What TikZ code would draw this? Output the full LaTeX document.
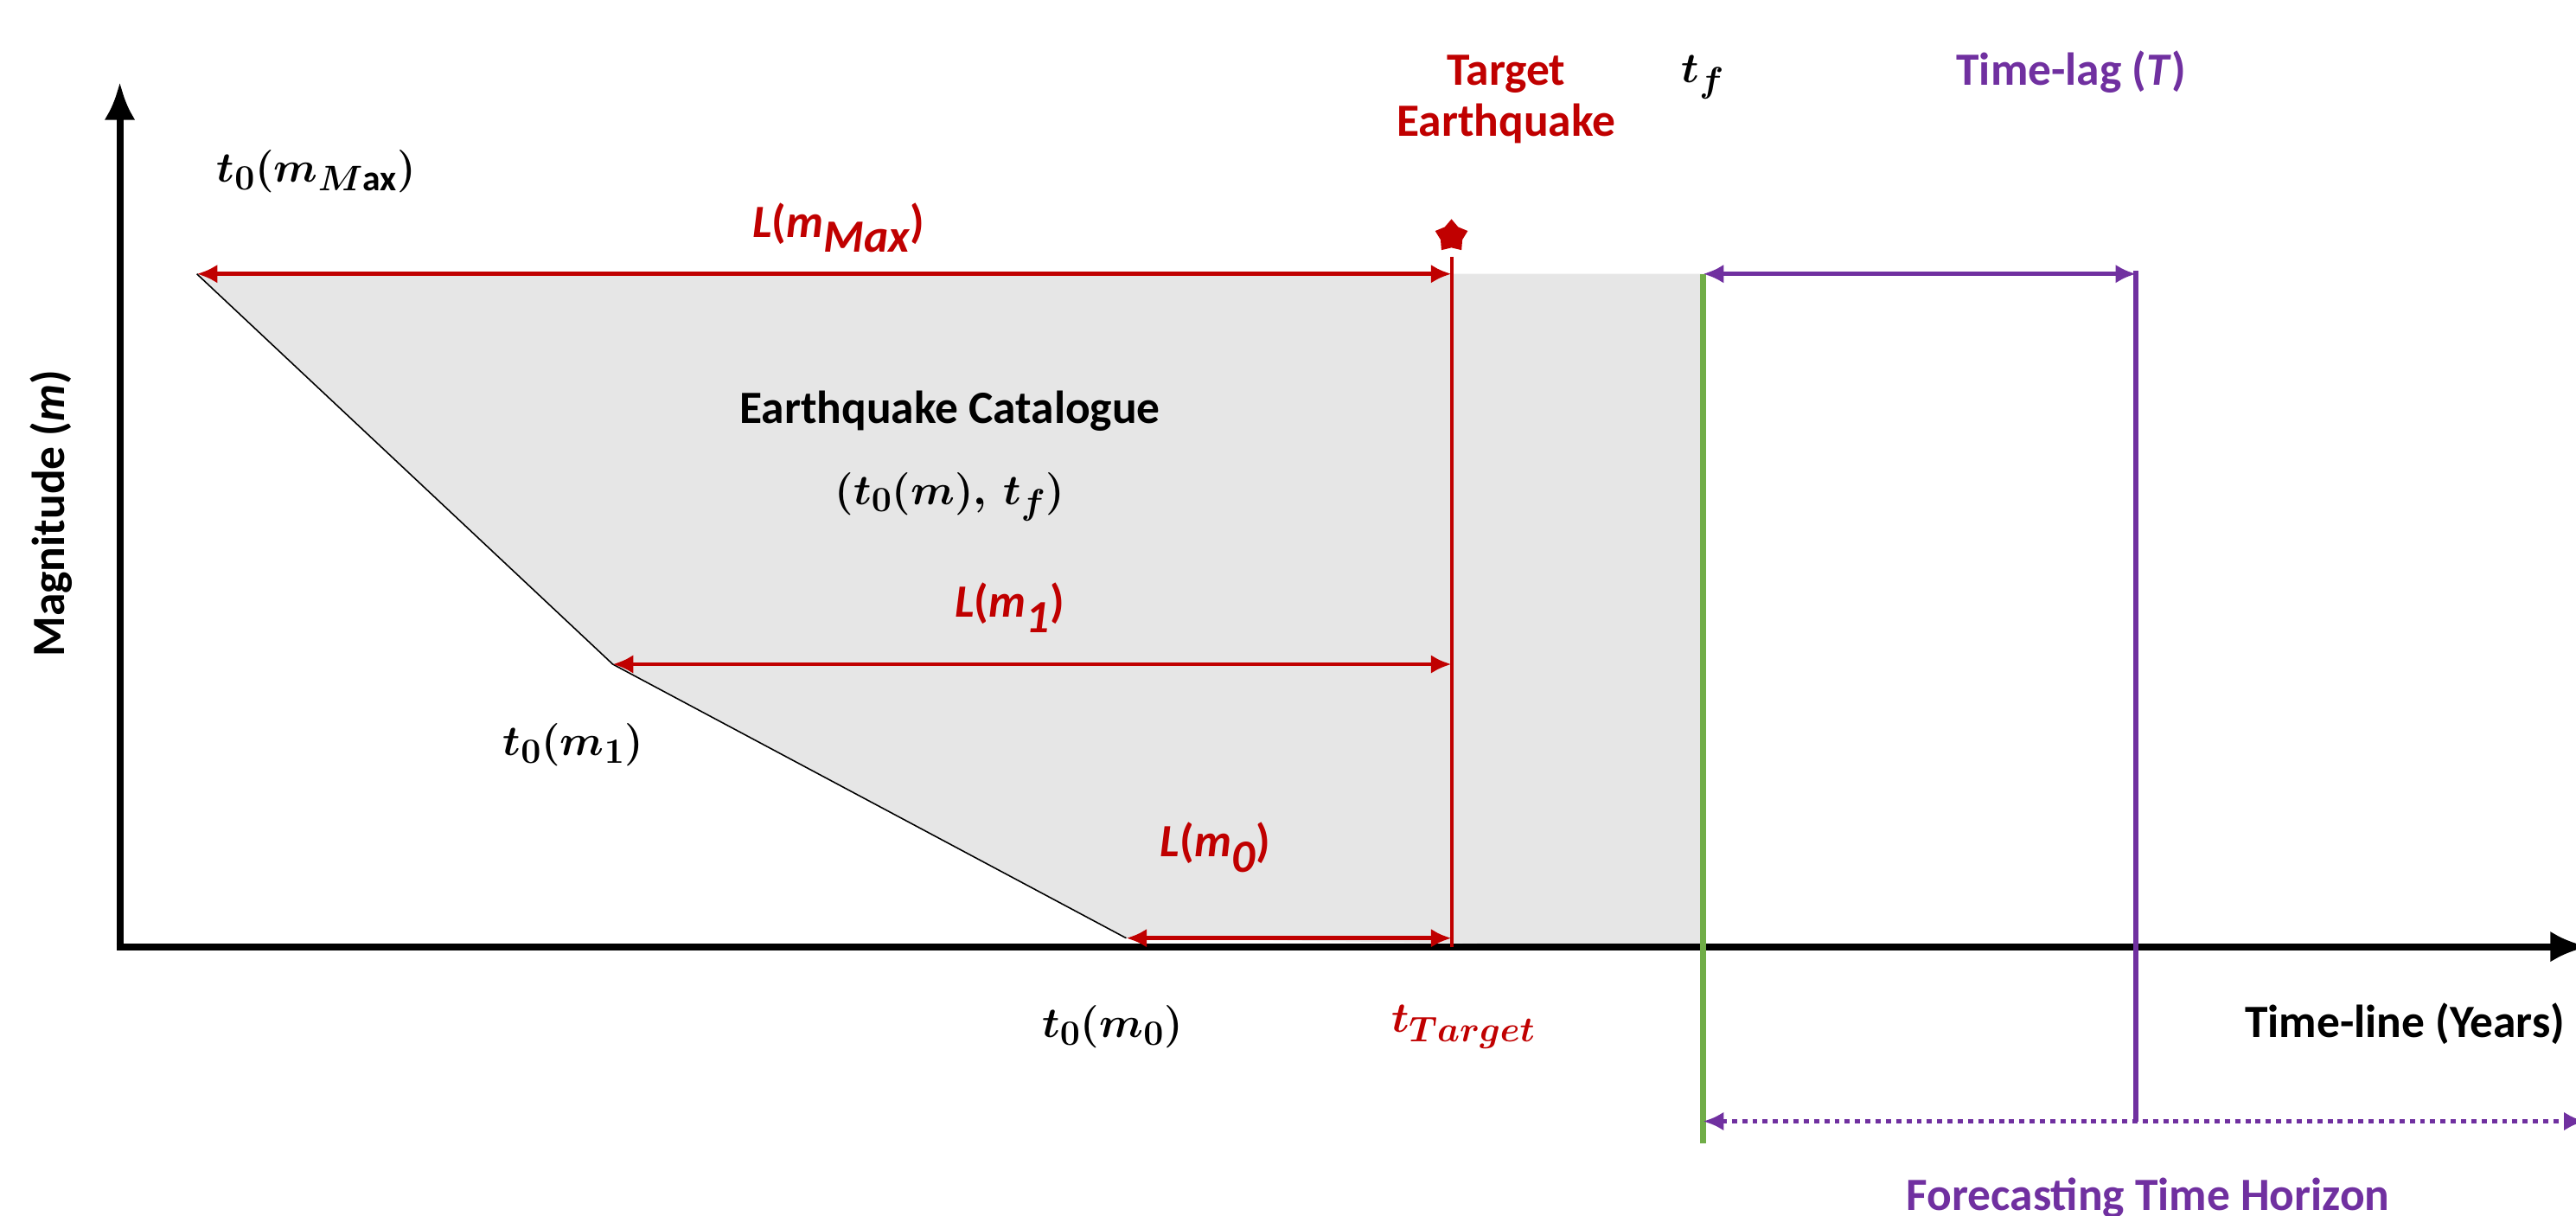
\documentclass[tikz,border=0pt]{standalone}
\usepackage{fontspec}
\setmainfont{Carlito}
\usetikzlibrary{arrows.meta,shapes.geometric}
\definecolor{dred}{RGB}{192,0,0}
\definecolor{purp}{RGB}{112,48,160}
\definecolor{grn}{RGB}{112,173,71}
\definecolor{fillg}{RGB}{230,230,230}
\tikzset{
 lab/.style={font=\fontsize{27}{30}\selectfont\bfseries},
 mlab/.style={font=\fontsize{30}{32}\selectfont\boldmath},
 redarr/.style={dred,line width=2.5pt,{Latex[length=12pt,width=11pt]}-{Latex[length=12pt,width=11pt]}},
 purarr/.style={purp,line width=2.5pt,{Latex[length=12pt,width=11pt]}-{Latex[length=12pt,width=11pt]}},
}
\begin{document}
\begin{tikzpicture}[x=1pt,y=-1pt]
\useasboundingbox (0,0) rectangle (1505,710);
\coordinate (tl) at (115,160);
\coordinate (m1) at (358,388);
\coordinate (m0) at (658,548);
\coordinate (tt) at (848,548);
\fill[fillg] (tl) -- (995,160) -- (995,553) -- (m0) -- (m1) -- cycle;
\draw[line width=0.8pt] (tl) -- (m1) -- (m0);
\draw[line width=4pt,-{Latex[length=22pt,width=18pt]}] (70,553) -- (70,48);
\draw[line width=4pt,-{Latex[length=22pt,width=18pt]}] (68,553) -- (1512,553);
\draw[dred,line width=2pt] (848,150) -- (848,553);
\node[dred,star,star points=5,fill=dred,minimum size=20pt,inner sep=0pt] (star) at (848,138) {};
\draw[redarr] (tl) -- (848,160);
\draw[redarr] (m1) -- (848,388);
\draw[redarr] (m0) -- (tt);
\node[lab,dred,align=center] (targ) at (880,58) {Target\\Earthquake};
\node[lab,dred] (lmax) at (490,133) {\textit{L}(\textit{m}$_{\textit{Max}}$)};
\node[lab,dred] (lm1) at (590,355) {\textit{L}(\textit{m}$_{\textit{1}}$)};
\node[lab,dred] (lm0) at (710,495) {\textit{L}(\textit{m}$_{\textit{0}}$)};
\node[mlab,dred] (ttar) at (855,600) {$t_{Target}$};
\draw[grn,line width=4pt] (995,160) -- (995,668);
\node[mlab] (tfl) at (995,45) {$t_f$};
\draw[purarr] (995,160) -- (1248,160);
\draw[purp,line width=3pt] (1248,158) -- (1248,655);
\draw[purarr,dashed] (995,655) -- (1510,655);
\node[lab,purp] (tlag) at (1210,42) {Time-lag (\textit{T})};
\node[lab,purp] (fth) at (1255,700) {Forecasting Time Horizon};
\node[lab] (tline) at (1405,598) {Time-line (Years)};
\node[lab,rotate=90] (mag) at (30,300) {Magnitude (\textit{m})};
\node[lab] (cat1) at (555,240) {Earthquake Catalogue};
\node[mlab] (cat2) at (555,290) {$(t_0(m),\,t_f)$};
\node[mlab] (t0max) at (185,100) {$t_0(m_{M\mathrm{ax}})$};
\node[mlab] (t0m1) at (335,435) {$t_0(m_1)$};
\node[mlab] (t0m0) at (650,600) {$t_0(m_0)$};
\end{tikzpicture}
\end{document}
